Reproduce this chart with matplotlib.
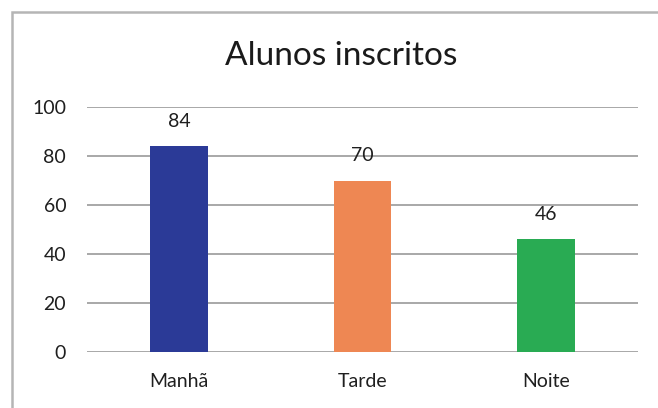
import matplotlib
matplotlib.use("Agg")
import matplotlib.pyplot as plt
from matplotlib.patches import Rectangle

# data
categories = ["Manhã", "Tarde", "Noite"]
values = [84, 70, 46]
colors = ["#2B3A97", "#EE8753", "#29AB53"]
yticks = [0, 20, 40, 60, 80, 100]

plt.rcParams["font.family"] = ["Lato", "DejaVu Sans"]

fig = plt.figure(figsize=(6.58, 4.08), dpi=100)
ax = fig.add_axes([87 / 658, 1 - 352 / 408, 551 / 658, 245 / 408])

x = range(len(categories))
bars = ax.bar(x, values, width=0.315, color=colors, zorder=3)
for b, v in zip(bars, values):
    ax.annotate(str(v), (b.get_x() + b.get_width() / 2, v), xytext=(0, 18),
                textcoords="offset points", ha="center", va="center",
                fontsize=14, color="#1f1f1f")

ax.set_xlim(-0.5, len(categories) - 0.5)
ax.set_ylim(0, 100)
ax.set_yticks(yticks)
ax.set_xticks(list(x))
ax.set_xticklabels(categories)
ax.grid(axis="y", color="#9A9A9A", linewidth=1.2, zorder=0)
for s in ax.spines.values():
    s.set_visible(False)
ax.tick_params(length=0, labelsize=14, labelcolor="#1f1f1f")
ax.tick_params(axis="y", pad=15)
ax.tick_params(axis="x", pad=15)

fig.text(341 / 658, 1 - 65 / 408, "Alunos inscritos", ha="center", va="baseline",
         fontsize=24, color="#1a1a1a")

# chart border
fig.patches.append(Rectangle((12 / 658, -0.1), 1.2, 1 - 12 / 408 + 0.1,
                             transform=fig.transFigure, fill=False,
                             edgecolor="#B5B5B5", linewidth=1.8))

fig.savefig("out.png", dpi=100)
